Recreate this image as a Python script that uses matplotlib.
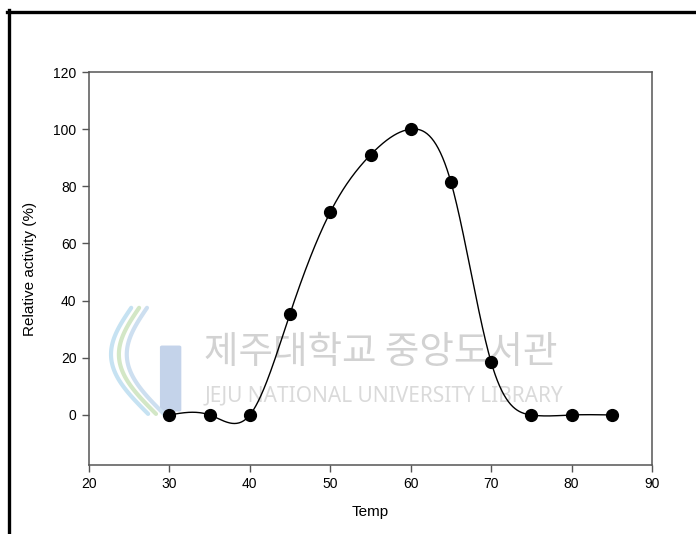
import numpy as np
import matplotlib.pyplot as plt
from matplotlib.lines import Line2D
from matplotlib.patches import FancyBboxPatch

plt.rcParams['font.family'] = ['Liberation Sans', 'DejaVu Sans']

# measured relative activity against temperature
temp = [30, 35, 40, 45, 50, 55, 60, 65, 70, 75, 80, 85]
activity = [0, 0, 0, 35.5, 71, 91, 100, 81.5, 18.5, 0, 0, 0]

x_ticks = [20, 30, 40, 50, 60, 70, 80, 90]
y_ticks = [0, 20, 40, 60, 80, 100, 120]


def natural_spline(x, y, n=600):
    # natural cubic spline through the points
    x = np.asarray(x, float)
    y = np.asarray(y, float)
    k = len(x)
    h = np.diff(x)
    A = np.zeros((k, k))
    b = np.zeros(k)
    A[0, 0] = A[-1, -1] = 1
    for i in range(1, k - 1):
        A[i, i - 1] = h[i - 1]
        A[i, i] = 2 * (h[i - 1] + h[i])
        A[i, i + 1] = h[i]
        b[i] = 6 * ((y[i + 1] - y[i]) / h[i] - (y[i] - y[i - 1]) / h[i - 1])
    m = np.linalg.solve(A, b)
    xs = np.linspace(x[0], x[-1], n)
    idx = np.clip(np.searchsorted(x, xs) - 1, 0, k - 2)
    x0, x1 = x[idx], x[idx + 1]
    hh = x1 - x0
    t0, t1 = x1 - xs, xs - x0
    ys = (m[idx] * t0 ** 3 + m[idx + 1] * t1 ** 3) / (6 * hh) \
        + (y[idx] / hh - m[idx] * hh / 6) * t0 \
        + (y[idx + 1] / hh - m[idx + 1] * hh / 6) * t1
    return xs, ys


fig = plt.figure(figsize=(6.96, 5.34), dpi=100)
ax = fig.add_axes([89 / 696, 1 - 465 / 534, (652 - 89) / 696, (465 - 72) / 534])

# library watermark behind the data
ax.text(0.205, 0.285, '제주대학교 중앙도서관', transform=ax.transAxes,
        family=['Noto Sans CJK KR', 'DejaVu Sans'], fontsize=27,
        color='#d2d2d2', va='center', ha='left', zorder=0)
ax.text(0.205, 0.175, 'JEJU NATIONAL UNIVERSITY LIBRARY', transform=ax.transAxes,
        family=['Noto Sans', 'DejaVu Sans'], fontsize=15,
        color='#dadada', va='center', ha='left', zorder=0)
logo_j = FancyBboxPatch((0.13, 0.14), 0.03, 0.16, transform=ax.transAxes,
                        boxstyle='round,pad=0.004', fc='#c4d3ea', ec='none', zorder=0)
ax.add_patch(logo_j)
for dx, col in [(0.0, '#c6e2f2'), (0.014, '#d3e7c6'), (0.028, '#cddff0')]:
    tt = np.linspace(0, 1, 50)
    lx = 0.075 + dx - 0.05 * np.sin(tt * np.pi) + 0.03 * tt
    ly = 0.4 - 0.27 * tt
    ax.plot(lx, ly, transform=ax.transAxes, color=col, lw=3, zorder=0,
            solid_capstyle='round')

xs, ys = natural_spline(temp, activity)
ax.plot(xs, ys, color='black', lw=1.0, zorder=2)
ax.plot(temp, activity, 'o', color='black', markersize=8.5, zorder=3)

ax.set_xlim(20, 90)
ax.set_ylim(-17.5, 120)
ax.set_xticks(x_ticks)
ax.set_yticks(y_ticks)
for s in ax.spines.values():
    s.set_color('#555555')
    s.set_linewidth(1.1)
ax.tick_params(direction='out', length=5, width=1, color='#555555',
               labelsize=10, pad=4)
ax.set_xlabel('Temp', fontsize=11, labelpad=10)
ax.set_ylabel('Relative activity (%)', fontsize=11, labelpad=12)

# page border on top and left
fig.add_artist(Line2D([7 / 696, 1], [1 - 11.5 / 534] * 2, color='black', lw=2.4))
fig.add_artist(Line2D([8.5 / 696] * 2, [0, 1 - 10 / 534], color='black', lw=2.4))

fig.savefig('out.png', dpi=100)
